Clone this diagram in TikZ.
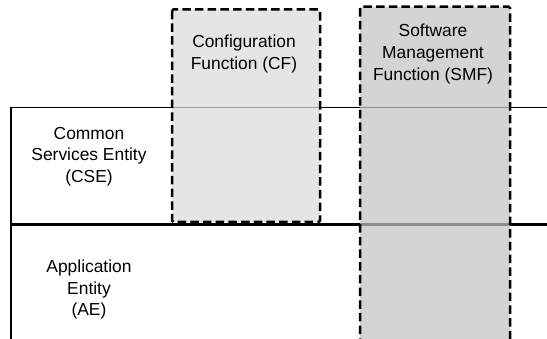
\documentclass[tikz,border=0pt]{standalone}
\usepackage{fontspec}
\setmainfont{Liberation Sans}
\begin{document}
\begin{tikzpicture}[x=1pt,y=-1pt,
  lbl/.style={align=center,inner sep=0pt,
    font=\fontsize{17.4}{21.7}\selectfont},
  layer/.style={line width=1.5pt,black},
  fnbox/.style={draw=black,line width=2.5pt,dash pattern=on 8.5pt off 4.2pt,
    rounded corners=1.5pt,fill opacity=0.72}
]
\useasboundingbox (0,0) rectangle (547,339);
\clip (0,0) rectangle (547,339);

% layer boundaries
\coordinate (tl) at (11,107.3);
\coordinate (tr) at (548,107.3);
\coordinate (ml) at (11,224.3);
\coordinate (mr) at (548,224.3);
\coordinate (bl) at (11,341);
\draw[layer,line cap=rect] (tr) -- (tl) -- (bl);
\draw[layer,line width=2.5pt] (ml) -- (mr);

% functions spanning the layers
\draw[fnbox,fill=black!14] (172,9.3) rectangle (320,222);
\draw[fnbox,fill=black!23] (360,6.7) rectangle (510,360);
\node[lbl] (cf) at (244,54) {Configuration\\Function (CF)};
\node[lbl] (smf) at (433,54) {Software\\Management\\Function (SMF)};

% layer names
\node[lbl] (cse) at (89,156.5) {Common\\Services Entity\\(CSE)};
\node[lbl] (ae) at (89,289.5) {Application\\Entity\\(AE)};
\end{tikzpicture}
\end{document}
